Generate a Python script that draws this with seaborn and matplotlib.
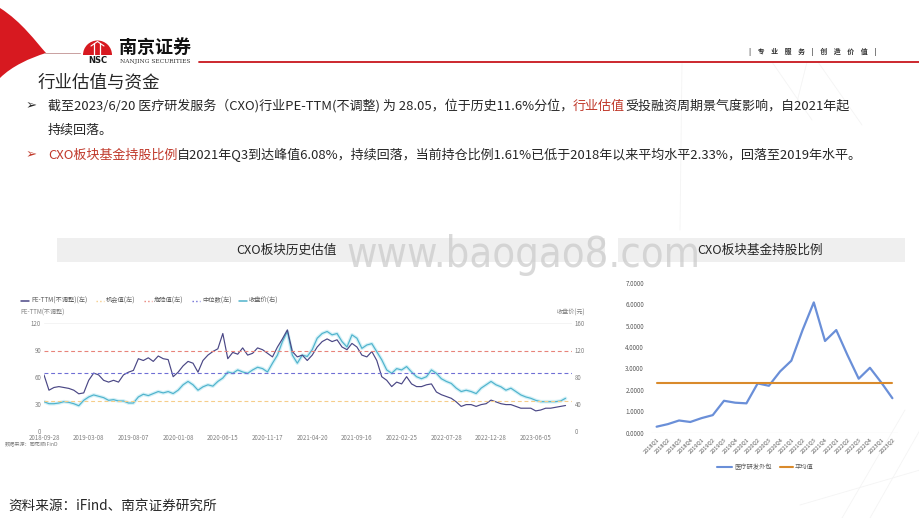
import numpy as np
import pandas as pd
import matplotlib
matplotlib.use("Agg")
import matplotlib.pyplot as plt
import seaborn as sns
from matplotlib.patches import PathPatch, Rectangle, Wedge
from matplotlib.path import Path

# ---------------- data ----------------
# PE-TTM (unadjusted) of the CXO sector, sampled about every 12 trading days
pe_ttm = [62, 45, 48, 49, 48, 47, 45, 41, 42, 56,
          64, 62, 56, 54, 56, 54, 62, 65, 67, 80,
          78, 81, 77, 83, 80, 79, 60, 65, 72, 77,
          75, 65, 78, 84, 88, 91, 108, 80, 87, 85,
          92, 84, 86, 92, 90, 86, 82, 93,
          102, 112, 88, 82, 84, 78, 84, 93, 99, 102,
          99, 101, 93, 90, 97, 93, 84, 82, 88, 78,
          60, 56, 49, 54, 52, 60, 52, 49, 49, 51,
          52, 43, 40, 38, 36, 32, 27, 29, 29, 27,
          29, 30, 34, 32, 30, 29, 29, 27, 25, 25,
          25, 22, 23, 25, 25, 26, 27, 28]
# sector close price (right axis, yuan)
close_price = [43, 40, 40, 41, 43, 42, 40, 37, 45, 50,
               53, 51, 49, 45, 46, 44, 44, 41, 41, 50,
               54, 52, 55, 58, 56, 58, 55, 60, 68, 73,
               68, 60, 65, 68, 66, 73, 78, 87, 85, 90,
               87, 85, 90, 94, 92, 87, 100, 112,
               132, 147, 112, 100, 112, 110, 120, 137, 144, 147,
               142, 144, 132, 124, 142, 137, 122, 127, 129, 117,
               105, 90, 85, 92, 90, 95, 87, 80, 77, 80,
               90, 85, 77, 73, 70, 63, 58, 60, 58, 55,
               63, 68, 73, 68, 65, 60, 63, 58, 53, 50,
               48, 45, 43, 43, 43, 43, 44, 48]
danger_value = 88.4     # 危险值
median_value = 63.6     # 中位数
chance_value = 33.3     # 机会值
date_ticks = ["2018-09-28", "2019-03-08", "2019-08-07", "2020-01-08",
              "2020-06-15", "2020-11-17", "2021-04-20", "2021-09-16",
              "2022-02-25", "2022-07-28", "2022-12-28", "2023-06-05"]
samples_per_tick = 9

# fund holding ratio of the CXO sector (%)
quarters = ["2018Q1", "2018Q2", "2018Q3", "2018Q4", "2019Q1", "2019Q2",
            "2019Q3", "2019Q4", "2020Q1", "2020Q2", "2020Q3", "2020Q4",
            "2021Q1", "2021Q2", "2021Q3", "2021Q4", "2022Q1", "2022Q2",
            "2022Q3", "2022Q4", "2023Q1", "2023Q2"]
holding_ratio = [0.28, 0.40, 0.57, 0.50, 0.68, 0.82, 1.49, 1.40, 1.37, 2.30,
                 2.19, 2.86, 3.36, 4.79, 6.08, 4.28, 4.79, 3.62, 2.52, 3.03,
                 2.35, 1.61]
holding_avg = 2.33

# ---------------- figure ----------------
sns.set_theme(style="white")
plt.rcParams["font.family"] = ["Noto Sans CJK SC", "DejaVu Sans"]
plt.rcParams["axes.unicode_minus"] = False

W, H = 920, 518
fig = plt.figure(figsize=(W / 100, H / 100), dpi=100)
fig.patch.set_facecolor("white")


def rect(x0, y0, x1, y1):
    return [x0 / W, 1 - y1 / H, (x1 - x0) / W, (y1 - y0) / H]


# page layer in pixel coordinates
bg = fig.add_axes([0, 0, 1, 1], zorder=0)
bg.set_xlim(0, W)
bg.set_ylim(H, 0)
bg.axis("off")

RED = "#c8161d"
TXT = "#262626"

# faint decorative strokes of the slide template
for (x0, y0, x1, y1) in [(682, 62, 680, 230), (772, 62, 812, 120), (807, 62, 795, 110),
                         (818, 62, 862, 125), (905, 410, 842, 518), (920, 430, 870, 518),
                         (920, 470, 800, 505)]:
    bg.plot([x0, x1], [y0, y1], color="#f4f4f4", lw=0.6, zorder=0)

# red swoosh at the top-left corner
verts = [(0, 8), (22, 22), (36, 42), (46, 53), (30, 58), (12, 66), (0, 78), (0, 8)]
codes = [Path.MOVETO, Path.CURVE4, Path.CURVE4, Path.CURVE4,
         Path.CURVE4, Path.CURVE4, Path.CURVE4, Path.CLOSEPOLY]
bg.add_patch(PathPatch(Path(verts, codes), facecolor="#d71920", edgecolor="none", zorder=2))
bg.plot([44, 80], [53, 53], color="#c9a0a0", lw=0.7, zorder=2)

# logo
bg.add_patch(Wedge((97.5, 55), 14.5, 180, 360, facecolor="#d71920", edgecolor="none", zorder=3))
for xx in (94.5, 100.5):
    bg.plot([xx, xx], [43, 55], color="white", lw=0.9, zorder=4)
bg.plot([91, 97.5, 104], [46, 41.5, 46], color="white", lw=0.8, zorder=4)
bg.text(97.5, 60.5, "NSC", ha="center", va="center", fontsize=6, fontweight="bold",
        color="#1a1a1a", family="DejaVu Sans", zorder=4)
bg.text(119, 47, "南京证券", ha="left", va="center", fontsize=13, fontweight="bold",
        color="#111111", zorder=4)
bg.text(120, 61.5, "NANJING SECURITIES", ha="left", va="center", fontsize=4.2,
        color="#333333", family="DejaVu Serif", zorder=4)
bg.plot([199, W], [62, 62], color=RED, lw=1.3, zorder=3)
bg.text(813, 52, "|    专    业    服    务    |    创    造    价    值    |", ha="center", va="center",
        fontsize=5, color="#333333", fontweight="bold", zorder=3)

# section title
bg.text(38, 82, "行业估值与资金", ha="left", va="center", fontsize=12.6, color=TXT)

renderer = fig.canvas.get_renderer()


def seg_line(x, y, segments, size):
    for s, c in segments:
        t = bg.text(x, y, s, ha="left", va="center", fontsize=size, color=c)
        bb = t.get_window_extent(renderer=renderer)
        x += bb.width
    return x


BODY = 9.4
TRED = "#c0392b"
bg.text(26, 106, "➢", ha="left", va="center", fontsize=9.5, color=TXT, family="DejaVu Sans")
seg_line(48, 106, [("截至2023/6/20 医疗研发服务（CXO)行业PE-TTM(不调整) 为 28.05，位于历史11.6%分位，", TXT),
                   ("行业估值", TRED),
                   ("受投融资周期景气度影响，自2021年起", TXT)], BODY)
seg_line(48, 130, [("持续回落。", TXT)], BODY)
bg.text(26, 155, "➢", ha="left", va="center", fontsize=9.5, color=TRED, family="DejaVu Sans")
seg_line(48, 155, [("CXO板块基金持股比例", TRED),
                   ("自2021年Q3到达峰值6.08%，持续回落，当前持仓比例1.61%已低于2018年以来平均水平2.33%，回落至2019年水平。", TXT)],
         BODY)

# chart title bands
bg.add_patch(Rectangle((57, 238), 548, 24, facecolor="#efefef", edgecolor="none", zorder=1))
bg.add_patch(Rectangle((618, 238), 287, 24, facecolor="#efefef", edgecolor="none", zorder=1))
bg.text(286, 250, "CXO板块历史估值", ha="center", va="center", fontsize=9.1, color=TXT, zorder=2)
bg.text(760, 250, "CXO板块基金持股比例", ha="center", va="center", fontsize=9.1, color=TXT, zorder=2)

# footer
bg.text(8, 507, "资料来源：iFind、南京证券研究所", ha="left", va="center", fontsize=9.8, color=TXT)

# ---------------- left chart: valuation history ----------------
NAVY = "#4a4785"
TEAL = "#4fb3cc"
GRAY = "#7f7f7f"
val_df = pd.DataFrame({"idx": np.arange(len(pe_ttm)), "pe": pe_ttm, "price": close_price})

ax = fig.add_axes(rect(44, 322.7, 572, 430.7), zorder=2)
ax.set_facecolor("none")
ax2 = ax.twinx()
ax2.set_zorder(1)
ax.set_zorder(3)
ax.patch.set_visible(False)

sns.lineplot(data=val_df, x="idx", y="price", ax=ax2, color="#c9edf5", lw=2.6, alpha=0.8)
sns.lineplot(data=val_df, x="idx", y="price", ax=ax2, color=TEAL, lw=0.85)
sns.lineplot(data=val_df, x="idx", y="pe", ax=ax, color=NAVY, lw=0.85)

ax.axhline(danger_value, color="#e8837a", lw=0.8, dashes=(3.5, 2.5))
ax.axhline(median_value, color="#6f6fd6", lw=0.8, dashes=(3.5, 2.5))
ax.axhline(chance_value, color="#f6cd8a", lw=0.8, dashes=(3.5, 2.5))

ax.set_xlim(0, len(pe_ttm) + 0.3)
ax.set_ylim(0, 120)
ax2.set_ylim(0, 160)
ax.set_yticks([0, 30, 60, 90, 120])
ax2.set_yticks([0, 40, 80, 120, 160])
ax.set_xticks(np.arange(len(date_ticks)) * samples_per_tick)
ax.set_xticklabels(date_ticks)
for a in (ax, ax2):
    a.set_xlabel("")
    a.set_ylabel("")
    for s in a.spines.values():
        s.set_visible(False)
    a.tick_params(length=0, labelsize=4.4, colors=GRAY, pad=2)
ax.tick_params(axis="x", pad=2.5)
ax.axhline(120, color="#f2f2f2", lw=0.6, zorder=0)
ax.axhline(0, color="#d9d9d9", lw=0.7, zorder=0)

bg.text(20, 313, "PE-TTM(不调整)", ha="left", va="center", fontsize=4.4, color=GRAY)
bg.text(585, 313, "收盘价(元)", ha="right", va="center", fontsize=4.4, color=GRAY)
bg.text(5, 444, "数据来源：同花顺iFinD", ha="left", va="center", fontsize=3.7, color=GRAY)

legend_items = [(21, "PE-TTM(不调整)(左)", NAVY, "-"),
                (96, "机会值(左)", "#f6cd8a", ":"),
                (144, "危险值(左)", "#e8837a", ":"),
                (192, "中位数(左)", "#6f6fd6", ":"),
                (239, "收盘价(右)", TEAL, "-")]
for x0, label, col, ls in legend_items:
    bg.plot([x0, x0 + 8], [301, 301], color=col, lw=1.1 if ls == "-" else 1.0, ls=ls)
    bg.text(x0 + 10, 301, label, ha="left", va="center", fontsize=4.5, color="#595959")

# ---------------- right chart: fund holding ratio ----------------
BLUE = "#6a8fd8"
ORANGE = "#d98a2b"
hold_df = pd.DataFrame({"quarter": quarters, "ratio": holding_ratio,
                        "avg": [holding_avg] * len(quarters)})
axr = fig.add_axes(rect(651, 282.7, 898, 432.7), zorder=2)
axr.set_facecolor("none")
sns.lineplot(data=hold_df, x="quarter", y="ratio", ax=axr, color=BLUE, lw=1.6, sort=False)
sns.lineplot(data=hold_df, x="quarter", y="avg", ax=axr, color=ORANGE, lw=1.5, sort=False)
axr.set_xlim(-0.5, len(quarters) - 0.5)
axr.set_ylim(0, 7)
axr.set_yticks(np.arange(0, 8))
axr.set_yticklabels([f"{v:.4f}" for v in np.arange(0, 8)])
axr.set_xlabel("")
axr.set_ylabel("")
for s in axr.spines.values():
    s.set_visible(False)
axr.axhline(0, color="#d9d9d9", lw=0.8, zorder=0)
axr.tick_params(length=0, labelsize=4.5, colors="#595959", pad=5)
plt.setp(axr.get_xticklabels(), rotation=45, ha="right", rotation_mode="anchor", fontsize=4.1)
axr.tick_params(axis="x", pad=3)

bg.plot([717, 732], [467, 467], color=BLUE, lw=1.5)
bg.text(734, 467, "医疗研发外包", ha="left", va="center", fontsize=4.5, color="#595959")
bg.plot([780, 793], [467, 467], color=ORANGE, lw=1.5)
bg.text(795, 467, "平均值", ha="left", va="center", fontsize=4.5, color="#595959")

# site watermark, sized to span x = 346..700
top = fig.add_axes([0, 0, 1, 1], zorder=10)
top.set_xlim(0, W)
top.set_ylim(H, 0)
top.axis("off")
wm = top.text(346, 267, "www.baogao8.com", ha="left", va="baseline", fontsize=40,
              color="#c9c9c9", alpha=0.7, family="DejaVu Sans", fontstretch="condensed")
wm_w = wm.get_window_extent(renderer=renderer).width
wm.set_fontsize(40 * 354 / wm_w)

fig.savefig("out.png", dpi=100, facecolor="white")
